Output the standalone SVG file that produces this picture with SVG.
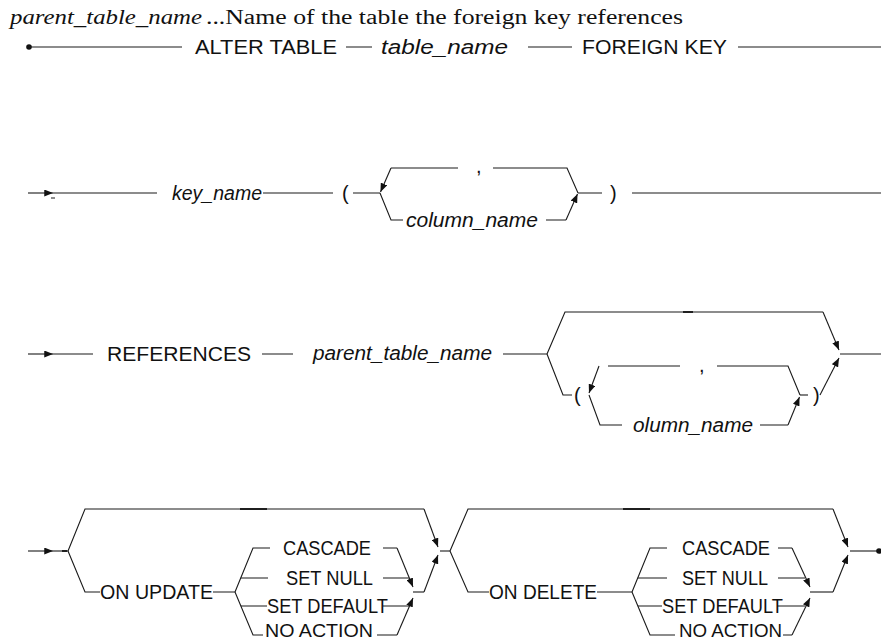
<svg xmlns="http://www.w3.org/2000/svg" width="881" height="642" viewBox="0 0 881 642">
<style>
.ln{stroke:#1a1a1a;stroke-width:1.1;fill:none}
.tk{stroke:#1a1a1a;stroke-width:1.9;fill:none}
.ar{stroke:#1a1a1a;stroke-width:1.1;fill:none;marker-end:url(#ah)}
.t{font-family:"Liberation Sans",Arial,sans-serif;font-size:20px;fill:#111}
.i{font-style:italic}
.sm{font-size:19px}
.hd{font-family:"Liberation Serif","Times New Roman",serif;font-size:20px;fill:#111}
</style>
<defs>
<marker id="ah" viewBox="0 0 10 8" refX="10" refY="4" markerWidth="9" markerHeight="7" markerUnits="userSpaceOnUse" orient="auto">
<path d="M0,0 L10,4 L0,8 z" fill="#111"/>
</marker>
</defs>
<rect width="881" height="642" fill="#fff"/>
<g id="title">
<text class="hd" x="10" y="24" font-style="italic" textLength="192" lengthAdjust="spacingAndGlyphs">parent_table_name</text>
<text class="hd" x="206" y="24" textLength="477" lengthAdjust="spacingAndGlyphs">...Name of the table the foreign key references</text>
</g>
<g id="connectors">
<!-- row 1 -->
<circle cx="29" cy="47" r="2.8" fill="#111"/>
<path class="ln" d="M29,47 H182 M346,47 H372 M528,47 H572 M738,47 H881"/>
<!-- row 2 -->
<path class="ar" d="M28,193 H53"/>
<path class="ln" d="M53,193 H157 M51,198 H55 M263,193 H333 M353,193 H380"/>
<path class="ar" d="M391,168 L380.5,192"/>
<path class="ln" d="M391,168 H458 M493,168 H567 L578,193"/>
<path class="ln" d="M380,193 L391,220 H403 M546,220 H566"/>
<path class="ar" d="M566,220 L577.5,194"/>
<path class="ln" d="M578,193 H602 M632,193 H881"/>
<!-- row 3 -->
<path class="ar" d="M28,354 H53"/>
<path class="ln" d="M53,354 H93 M262,354 H293 M503,354 H547"/>
<path class="ln" d="M547,354 L565,312 H823"/>
<path class="tk" d="M683,312 H693"/>
<path class="ar" d="M823,312 L839,350"/>
<path class="ln" d="M840,354 H881"/>
<path class="ln" d="M547,354 L563,395 H572"/>
<path class="ar" d="M599,366 L589,393"/>
<path class="ln" d="M608,366 H680 M717,366 H788 L800,395"/>
<path class="ln" d="M589,395 L600,425 H622 M760,425 H788"/>
<path class="ar" d="M788,425 L799.5,397"/>
<path class="ln" d="M800,395 H808"/>
<path class="ar" d="M820,395 L839,358"/>
<!-- row 4 -->
<path class="ar" d="M28,551 H53"/>
<path class="ln" d="M53,551 H68"/>
<path class="tk" d="M62,551 H67"/>
<path class="ln" d="M68,551 L85,509 H424"/>
<path class="tk" d="M240,509 H267"/>
<path class="ar" d="M424,509 L438,547"/>
<path class="ln" d="M68,551 L85,592 H100 M213,592 H235"/>
<path class="ln" d="M235,592 L253,548 H270 M383,548 H397"/>
<path class="ar" d="M397,548 L413,587"/>
<path class="ln" d="M240.7,578 H268 M383,578 H409"/>
<path class="ln" d="M235,592 L253,635 H263 M377,635 H397"/>
<path class="ar" d="M397,635 L413,598"/>
<path class="ln" d="M240.9,606 H267 M383,606 H409"/>
<path class="ln" d="M413,592 H424"/>
<path class="ar" d="M424,592 L438,555"/>
<path class="ln" d="M440,551 H450"/>
<path class="ln" d="M450,551 L468,509 H833"/>
<path class="tk" d="M623,509 H650"/>
<path class="ar" d="M833,509 L848,547"/>
<path class="ln" d="M450,551 L468,592 H489 M597,592 H632"/>
<path class="ln" d="M632,592 L650,548 H667 M778,548 H792"/>
<path class="ar" d="M792,548 L810,587"/>
<path class="ln" d="M637.7,578 H667 M778,578 H805"/>
<path class="ln" d="M632,592 L650,635 H675 M783,635 H792"/>
<path class="ar" d="M792,635 L810,598"/>
<path class="ln" d="M637.9,606 H662 M777,606 H805"/>
<path class="ln" d="M810,592 H833"/>
<path class="ar" d="M833,592 L848,555"/>
<path class="ln" d="M850,551 H879"/>
<circle cx="879" cy="551" r="2.8" fill="#111"/>
</g>
<g id="n_alter_table"><text class="t" x="195" y="54" textLength="142" lengthAdjust="spacingAndGlyphs">ALTER TABLE</text></g>
<g id="n_table_name"><text class="t i" x="381" y="54" textLength="127" lengthAdjust="spacingAndGlyphs">table_name</text></g>
<g id="n_foreign_key"><text class="t" x="582" y="54" textLength="145" lengthAdjust="spacingAndGlyphs">FOREIGN KEY</text></g>
<g id="n_key_name"><text class="t i" x="172" y="200" textLength="90" lengthAdjust="spacingAndGlyphs">key_name</text></g>
<g id="n_lparen1"><text class="t" x="342" y="200">(</text></g>
<g id="n_comma1"><text class="t" x="476" y="173">,</text></g>
<g id="n_column_name1"><text class="t i" x="406" y="227" textLength="132" lengthAdjust="spacingAndGlyphs">column_name</text></g>
<g id="n_rparen1"><text class="t" x="610" y="200">)</text></g>
<g id="n_references"><text class="t" x="107" y="361" textLength="144" lengthAdjust="spacingAndGlyphs">REFERENCES</text></g>
<g id="n_parent_table_name"><text class="t i" x="313" y="360" textLength="179" lengthAdjust="spacingAndGlyphs">parent_table_name</text></g>
<g id="n_lparen2"><text class="t" x="574" y="402">(</text></g>
<g id="n_comma2"><text class="t" x="699" y="372">,</text></g>
<g id="n_column_name2"><text class="t i" x="633" y="432" textLength="120" lengthAdjust="spacingAndGlyphs">olumn_name</text></g>
<g id="n_rparen2"><text class="t" x="813" y="402">)</text></g>
<g id="n_on_update"><text class="t" x="100" y="599" textLength="113" lengthAdjust="spacingAndGlyphs">ON  UPDATE</text></g>
<g id="n_cascade1"><text class="t" x="283" y="555" textLength="88" lengthAdjust="spacingAndGlyphs">CASCADE</text></g>
<g id="n_set_null1"><text class="t" x="286" y="585" textLength="87" lengthAdjust="spacingAndGlyphs">SET NULL</text></g>
<g id="n_set_default1"><text class="t" x="267" y="613" textLength="121" lengthAdjust="spacingAndGlyphs">SET DEFAULT</text></g>
<g id="n_no_action1"><text class="t sm" x="265" y="637" textLength="108" lengthAdjust="spacingAndGlyphs">NO ACTION</text></g>
<g id="n_on_delete"><text class="t" x="489" y="599" textLength="108" lengthAdjust="spacingAndGlyphs">ON  DELETE</text></g>
<g id="n_cascade2"><text class="t" x="682" y="555" textLength="88" lengthAdjust="spacingAndGlyphs">CASCADE</text></g>
<g id="n_set_null2"><text class="t" x="682" y="585" textLength="86" lengthAdjust="spacingAndGlyphs">SET NULL</text></g>
<g id="n_set_default2"><text class="t" x="662" y="613" textLength="121" lengthAdjust="spacingAndGlyphs">SET DEFAULT</text></g>
<g id="n_no_action2"><text class="t sm" x="679" y="637" textLength="103" lengthAdjust="spacingAndGlyphs">NO ACTION</text></g>
</svg>
